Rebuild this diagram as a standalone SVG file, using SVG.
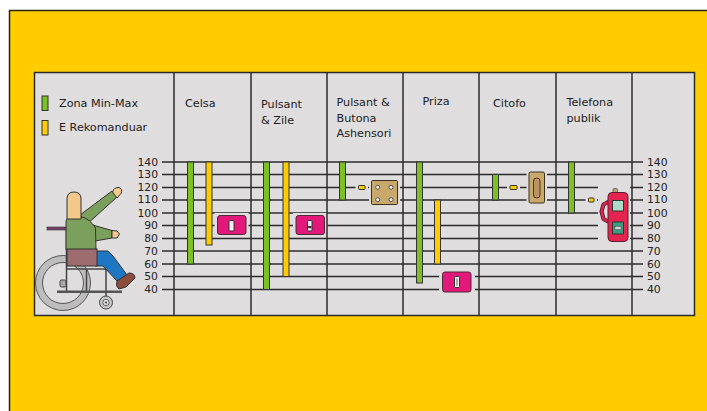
<svg xmlns="http://www.w3.org/2000/svg" width="707" height="411" viewBox="0 0 707 411">
  <style>
    .hdr { font-family: "DejaVu Sans", Verdana, sans-serif; font-size: 11.2px; fill: #222; }
    .num { font-family: "DejaVu Sans", Verdana, sans-serif; font-size: 10.8px; fill: #222; }
    .grid { stroke: #2b2b2b; stroke-width: 1.5; fill: none; }
    .col { stroke: #2b2b2b; stroke-width: 1.5; }
    .pad { fill: #dfdddd; }
    .gbar { fill: #7cc025; stroke: #333; stroke-width: 1; }
    .ybar { fill: #ffcc00; stroke: #333; stroke-width: 1; }
    .pink { fill: #e2187a; stroke: #4a2a35; stroke-width: 1; }
    .tan { fill: #c9a96b; stroke: #3a3020; stroke-width: 1; }
    .slot { fill: #f4f4f4; stroke: #333; stroke-width: 1; }
    .ol { stroke: #333; stroke-width: 1; }
  </style>

  <!-- background -->
  <rect x="0" y="0" width="707" height="411" fill="#ffffff"/>
  <rect x="9.5" y="10.5" width="720" height="420" fill="#ffcc00" stroke="#2a2418" stroke-width="1.5"/>

  <!-- chart panel -->
  <rect id="panel" x="34.5" y="72.5" width="660" height="243" fill="#dfdddd" stroke="#2b2b2b" stroke-width="1.5"/>

  <!-- height scale lines (cm) -->
  <g id="scale-lines" class="grid">
    <line x1="162" y1="162" x2="643" y2="162"/>
    <line x1="162" y1="174.5" x2="643" y2="174.5"/>
    <line x1="162" y1="187.5" x2="643" y2="187.5"/>
    <line x1="162" y1="200" x2="643" y2="200"/>
    <line x1="162" y1="213" x2="643" y2="213"/>
    <line x1="162" y1="225.5" x2="643" y2="225.5"/>
    <line x1="162" y1="238.5" x2="643" y2="238.5"/>
    <line x1="162" y1="251" x2="643" y2="251"/>
    <line x1="162" y1="264" x2="643" y2="264"/>
    <line x1="162" y1="276.5" x2="643" y2="276.5"/>
    <line x1="162" y1="289.5" x2="643" y2="289.5"/>
  </g>

  <!-- gaps around the fixtures -->
  <g id="gaps" class="pad">
    <rect x="214.5" y="213" width="34" height="24"/>
    <rect x="293" y="213" width="34.5" height="24"/>
    <rect x="439" y="269" width="36" height="26"/>
    <rect x="369" y="178" width="31" height="29"/>
    <rect x="355.5" y="183" width="12.5" height="9"/>
    <rect x="526.5" y="169.5" width="20.5" height="36"/>
    <rect x="507" y="183" width="13" height="9"/>
    <rect x="585.5" y="195.5" width="11.5" height="9"/>
    <rect x="598" y="186" width="32" height="60"/>
  </g>

  <!-- column dividers -->
  <g id="columns" class="col">
    <line x1="174" y1="72.5" x2="174" y2="315.5"/>
    <line x1="251" y1="72.5" x2="251" y2="315.5"/>
    <line x1="327" y1="72.5" x2="327" y2="315.5"/>
    <line x1="403" y1="72.5" x2="403" y2="315.5"/>
    <line x1="479" y1="72.5" x2="479" y2="315.5"/>
    <line x1="556" y1="72.5" x2="556" y2="315.5"/>
    <line x1="632" y1="72.5" x2="632" y2="315.5"/>
  </g>

  <!-- scale labels -->
  <g id="scale-left" class="num" text-anchor="end">
    <text x="158" y="165.5">140</text>
    <text x="158" y="178">130</text>
    <text x="158" y="191">120</text>
    <text x="158" y="203">110</text>
    <text x="158" y="216.5">100</text>
    <text x="158" y="229">90</text>
    <text x="158" y="242">80</text>
    <text x="158" y="254.5">70</text>
    <text x="158" y="267.5">60</text>
    <text x="158" y="280">50</text>
    <text x="158" y="293">40</text>
  </g>
  <g id="scale-right" class="num">
    <text x="647" y="165.5">140</text>
    <text x="647" y="178">130</text>
    <text x="647" y="191">120</text>
    <text x="647" y="203">110</text>
    <text x="647" y="216.5">100</text>
    <text x="647" y="229">90</text>
    <text x="647" y="242">80</text>
    <text x="647" y="254.5">70</text>
    <text x="647" y="267.5">60</text>
    <text x="647" y="280">50</text>
    <text x="647" y="293">40</text>
  </g>

  <!-- legend -->
  <g id="legend">
    <rect class="gbar" x="42" y="96" width="6" height="14.5"/>
    <text class="hdr" x="59" y="107">Zona Min-Max</text>
    <rect class="ybar" x="42" y="120.5" width="6" height="14.5"/>
    <text class="hdr" x="59" y="131">E Rekomanduar</text>
  </g>

  <!-- column headers -->
  <g id="headers" class="hdr">
    <text x="185" y="107">Celsa</text>
    <text x="261" y="108">Pulsant</text>
    <text x="261" y="124">&amp; Zile</text>
    <text x="336.5" y="106">Pulsant &amp;</text>
    <text x="336.5" y="121.5">Butona</text>
    <text x="336.5" y="137">Ashensori</text>
    <text x="422.5" y="105">Priza</text>
    <text x="493" y="107">Citofo</text>
    <text x="566.5" y="106">Telefona</text>
    <text x="566.5" y="121.5">publik</text>
  </g>

  <!-- Celsa (key switch) -->
  <g id="celsa">
    <rect class="gbar" x="187.5" y="162" width="6" height="102"/>
    <rect class="ybar" x="206" y="162" width="6" height="83"/>
    <rect class="pink" x="217.5" y="215.5" width="28.5" height="19" rx="2.5"/>
    <rect class="slot" x="229" y="220.5" width="5" height="10.5" rx="1"/>
  </g>

  <!-- Pulsant & Zile (switch and bell) -->
  <g id="pulsant-zile">
    <rect class="gbar" x="263.5" y="162" width="6" height="127.5"/>
    <rect class="ybar" x="283" y="162" width="6" height="114.5"/>
    <rect class="pink" x="296" y="215.5" width="28.5" height="19" rx="2.5"/>
    <rect class="slot" x="307.5" y="220.5" width="4.5" height="10.5" rx="1"/>
    <rect x="308" y="226" width="3.5" height="2.2" fill="#333"/>
  </g>

  <!-- Pulsant & Butona Ashensori (lift call panel) -->
  <g id="butona-ashensori">
    <rect class="gbar" x="339.5" y="162" width="6" height="38"/>
    <rect class="ybar" x="358.5" y="185.5" width="6.5" height="4" rx="0.8"/>
    <rect class="tan" x="371.5" y="180.5" width="26" height="24" rx="1"/>
    <g fill="#f4f4f4" stroke="#444" stroke-width="0.9">
      <circle cx="377.7" cy="187.3" r="2"/>
      <circle cx="391" cy="187.3" r="2"/>
      <circle cx="377.7" cy="199.7" r="2"/>
      <circle cx="391" cy="199.7" r="2"/>
    </g>
  </g>

  <!-- Priza (socket) -->
  <g id="priza">
    <rect class="gbar" x="416.5" y="162" width="6" height="121"/>
    <rect class="ybar" x="434.5" y="200" width="6" height="64"/>
    <rect class="pink" x="442.5" y="272" width="28.5" height="20" rx="2.5"/>
    <rect class="slot" x="454.5" y="276.5" width="5" height="11" rx="1"/>
    <rect x="456" y="278.5" width="2" height="7" fill="#a8a8a8"/>
  </g>

  <!-- Citofo (intercom) -->
  <g id="citofo">
    <rect class="gbar" x="492.5" y="174.5" width="6" height="25.5"/>
    <rect class="ybar" x="510" y="185.5" width="7" height="4" rx="0.8"/>
    <rect class="tan" x="529" y="172" width="15.5" height="31" rx="1.5"/>
    <rect x="533.5" y="178" width="6.5" height="20" rx="3" fill="#b89460" stroke="#4a3518" stroke-width="1"/>
  </g>

  <!-- Telefona publik (payphone) -->
  <g id="telefona-publik">
    <rect class="gbar" x="568.5" y="162" width="6" height="51"/>
    <rect class="ybar" x="588.5" y="198" width="5.5" height="4" rx="0.8"/>
    <rect x="613" y="188.5" width="4.5" height="5" rx="1" fill="#b8a070" stroke="#555" stroke-width="0.7"/>
    <path d="M609,201.5 L603.5,204.5 L601.5,211.5 L603.5,219 L609,222" fill="none" stroke="#4a2030" stroke-width="4.2" stroke-linejoin="round"/>
    <path d="M609,201.5 L603.5,204.5 L601.5,211.5 L603.5,219 L609,222" fill="none" stroke="#e5254f" stroke-width="2.4" stroke-linejoin="round"/>
    <rect x="608" y="192.5" width="20" height="49" rx="4" fill="#e5254f" stroke="#5a2030" stroke-width="1"/>
    <rect x="612.5" y="200.5" width="11" height="10.5" fill="#a8dcc8" stroke="#333" stroke-width="1"/>
    <rect x="612.5" y="222" width="11" height="12" fill="#3c9c82" stroke="#333" stroke-width="1"/>
    <rect x="615" y="226.5" width="6" height="3" fill="#d8d8d8" stroke="#444" stroke-width="0.5"/>
  </g>

  <!-- wheelchair user reaching up -->
  <g id="wheelchair-user">
    <!-- rear wheel -->
    <circle cx="63" cy="283" r="24" fill="none" stroke="#bdbdbd" stroke-width="7"/>
    <circle cx="63" cy="283" r="27.5" fill="none" stroke="#555" stroke-width="1"/>
    <circle cx="63" cy="283" r="20.5" fill="none" stroke="#555" stroke-width="1"/>
    <!-- frame -->
    <g stroke="#444" stroke-width="1.5" fill="none">
      <line x1="66.5" y1="229" x2="66.5" y2="292"/>
      <line x1="66.5" y1="269" x2="106" y2="269"/>
      <line x1="86.5" y1="269" x2="86.5" y2="291"/>
      <line x1="106" y1="269" x2="106" y2="297"/>
    </g>
    <rect x="60" y="280" width="6" height="7" rx="1.5" fill="#a8a8a8" stroke="#444" stroke-width="1"/>
    <!-- push handle -->
    <rect x="47" y="227" width="19.5" height="3" fill="#7b3f6e" stroke="#333" stroke-width="0.6"/>
    <!-- raised arm -->
    <path d="M76,218 L112,191 L117,197 L85,226 Z" fill="#7ba05b" class="ol"/>
    <path d="M112.5,192 Q114,187 119,187.5 Q123,189 121,193.5 L117,198 Z" fill="#f2c98a" class="ol"/>
    <!-- lower arm -->
    <path d="M82,222 L112,230.5 L112,238 L95,241 Z" fill="#7ba05b" class="ol"/>
    <path d="M112,230.5 L117,231 L119.5,234 L117,238 L112,238 Z" fill="#f2c98a" class="ol"/>
    <!-- torso -->
    <path d="M66,250 L66,222 Q66,217 72,217 L82,217 Q90,219 95.5,228 L96,250 Z" fill="#7ba05b" class="ol"/>
    <!-- head -->
    <path d="M67,219 L67,199 Q67,192 74,192 Q81,192 81,199 L81,219 Z" fill="#f2c98a" class="ol"/>
    <!-- legs -->
    <path d="M95,251 L108,251 L113,256 L127,275 L118,282 L103,266 L95,266 Z" fill="#1f77c4" class="ol"/>
    <!-- shoe -->
    <path d="M117,281 L129,273 Q135,273 135,278 L126,287 L119,289 Q115,286 117,281 Z" fill="#8b4c3e" class="ol"/>
    <!-- seat cushion -->
    <rect x="67" y="249" width="30" height="17" fill="#9e6b6e" class="ol"/>
    <!-- footrest -->
    <rect x="57" y="290.5" width="65" height="2.5" fill="#555"/>
    <!-- caster wheel -->
    <circle cx="106" cy="302.5" r="6.5" fill="#c8c8c8" stroke="#444" stroke-width="1"/>
    <circle cx="106" cy="302.5" r="3.2" fill="#e0e0e0" stroke="#444" stroke-width="0.8"/>
    <circle cx="106" cy="302.5" r="1" fill="#333"/>
  </g>
</svg>
